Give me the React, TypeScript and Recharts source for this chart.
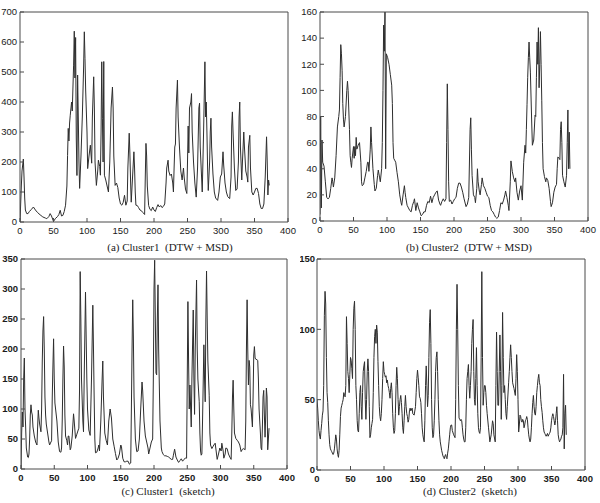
import React from 'react';
import { LineChart, Line, XAxis, YAxis } from 'recharts';

// ---------- tick labels ----------
const xTicks = [0, 50, 100, 150, 200, 250, 300, 350, 400];
const ticksA = [0, 100, 200, 300, 400, 500, 600, 700];
const ticksB = [0, 20, 40, 60, 80, 100, 120, 140, 160];
const ticksC = [0, 50, 100, 150, 200, 250, 300, 350];
const ticksD = [0, 50, 100, 150];

const captions = [
  '(a) Cluster1  (DTW + MSD)',
  '(b) Cluster2  (DTW + MSD)',
  '(c) Cluster1  (sketch)',
  '(d) Cluster2  (sketch)',
];

// ---------- (a) Cluster1 (DTW + MSD) ----------
const aX = [
  0, 1, 2, 3, 5, 6, 7, 8, 10, 12,
  14, 17, 20, 23, 26, 30, 34, 38, 40, 43,
  45, 47, 50, 53, 56, 58, 60, 62, 64, 66,
  68, 70, 71, 72, 73, 74, 75, 77, 78, 80,
  81, 82, 83, 84, 85, 86, 87, 88, 89, 91,
  93, 95, 96, 97, 98, 100, 101, 103, 105, 107,
  108, 110, 111, 112, 114, 116, 117, 119, 120, 121,
  122, 123, 124, 125, 126, 128, 130, 132, 134, 136,
  138, 139, 140, 142, 144, 146, 148, 150, 152, 154,
  156, 158, 160, 161, 163, 164, 165, 166, 168, 170,
  171, 172, 173, 175, 177, 179, 181, 183, 185, 186,
  187, 188, 189, 190, 192, 194, 196, 198, 200, 202,
  204, 206, 208, 210, 212, 214, 216, 218, 219, 221,
  222, 224, 226, 228, 229, 230, 231, 232, 233, 235,
  236, 238, 240, 242, 244, 245, 247, 249, 250, 251,
  252, 253, 255, 256, 257, 259, 261, 263, 265, 267,
  268, 269, 271, 272, 274, 275, 276, 277, 278, 279,
  280, 281, 283, 284, 285, 286, 288, 290, 292, 295,
  297, 299, 301, 303, 304, 306, 308, 310, 312, 313,
  315, 316, 317, 318, 320, 322, 324, 326, 327, 328,
  329, 331, 332, 334, 335, 337, 339, 340, 341, 343,
  344, 346, 348, 350, 352, 354, 356, 358, 360, 362,
  364, 366, 368, 369, 370, 371, 372,
];
const aY = [
  0, 60, 120, 170, 210, 150, 80, 40, 28, 28,
  35, 42, 50, 40, 32, 24, 17, 13, 11, 18,
  28, 20, 2, 12, 18, 25, 39, 20, 22, 35,
  56, 120, 222, 312, 270, 330, 356, 400, 370, 523,
  636, 480, 615, 280, 155, 490, 350, 200, 112, 220,
  350, 520, 634, 546, 440, 300, 178, 220, 256, 196,
  350, 484, 380, 200, 122, 170, 206, 185, 156, 300,
  534, 346, 200, 535, 156, 140, 120, 100, 200, 380,
  450, 380, 220, 122, 130, 115, 80, 60, 56, 65,
  89, 56, 70, 180, 296, 230, 140, 66, 150, 234,
  180, 100, 56, 55, 48, 40, 38, 32, 28, 25,
  150, 262, 220, 120, 55, 42, 38, 50, 40, 35,
  48, 58, 50, 55, 48, 52, 60, 130, 180, 206,
  170, 155, 160, 130, 100, 180, 250, 260, 380, 473,
  350, 250, 170, 140, 180, 150, 110, 95, 200, 320,
  230, 380, 400, 428, 300, 200, 130, 83, 180, 380,
  396, 250, 150, 100, 300, 420, 534, 350, 400, 300,
  180, 105, 200, 300, 346, 250, 160, 100, 80, 72,
  100, 150, 160, 234, 190, 130, 100, 85, 80, 78,
  150, 320, 367, 300, 180, 105, 110, 200, 350, 400,
  250, 140, 200, 300, 250, 170, 150, 133, 250, 289,
  180, 100, 90, 100, 112, 112, 95, 60, 45, 45,
  60, 150, 284, 200, 90, 140, 122,
];

// ---------- (b) Cluster2 (DTW + MSD) ----------
const bX = [
  0, 1, 2, 3, 4, 6, 8, 10, 12, 14,
  16, 18, 19, 20, 22, 24, 26, 28, 29, 30,
  31, 32, 33, 34, 35, 36, 38, 40, 41, 42,
  44, 45, 46, 47, 48, 50, 51, 52, 53, 54,
  55, 57, 59, 61, 62, 63, 65, 67, 69, 71,
  72, 73, 75, 76, 77, 79, 81, 82, 84, 86,
  87, 89, 90, 92, 93, 94, 95, 96, 97, 98,
  99, 101, 103, 105, 107, 108, 109, 110, 112, 113,
  115, 117, 119, 121, 122, 124, 126, 127, 128, 130,
  132, 134, 136, 138, 140, 141, 143, 145, 147, 149,
  151, 153, 155, 157, 159, 161, 163, 165, 167, 169,
  171, 173, 175, 177, 179, 180, 182, 184, 186, 188,
  189, 190, 191, 192, 193, 195, 197, 199, 201, 203,
  205, 207, 209, 211, 213, 215, 217, 218, 220, 222,
  224, 225, 226, 227, 229, 231, 232, 234, 235, 236,
  238, 239, 241, 242, 244, 246, 248, 250, 252, 254,
  256, 258, 260, 262, 264, 266, 268, 270, 272, 274,
  276, 277, 279, 281, 282, 284, 285, 287, 289, 291,
  292, 294, 296, 298, 300, 302, 304, 306, 307, 308,
  309, 310, 311, 312, 313, 314, 316, 317, 319, 321,
  322, 323, 324, 325, 326, 327, 328, 329, 330, 331,
  332, 333, 335, 337, 338, 340, 342, 344, 345, 347,
  349, 351, 353, 354, 355, 357, 358, 359, 360, 361,
  362, 364, 366, 368, 369, 370, 371, 372, 373,
];
const bY = [
  5, 80, 10, 62, 45, 42, 30, 18, 17, 18,
  25, 33, 30, 26, 33, 50, 72, 80, 85, 110,
  135, 128, 115, 90, 78, 72, 80, 100, 107, 100,
  70, 50, 45, 41, 48, 57, 48, 57, 50, 64,
  55, 58, 60, 45, 30, 27, 28, 33, 38, 45,
  45, 38, 55, 72, 60, 40, 28, 23, 25, 35,
  39, 33, 30, 40, 60, 100, 150, 130, 160, 40,
  128, 125, 120, 112, 104, 90, 60, 48, 46, 45,
  37, 30, 20, 14, 12, 20, 27, 22, 18, 12,
  10, 8, 7, 12, 15, 17, 8, 14, 10, 7,
  4, 5, 7, 7, 12, 15, 14, 19, 14, 18,
  20, 22, 23, 16, 13, 12, 15, 17, 15, 17,
  60, 105, 70, 30, 15, 16, 13, 15, 17, 18,
  25, 29, 29, 26, 22, 17, 13, 11, 13, 18,
  70, 79, 55, 35, 20, 18, 14, 25, 40, 30,
  22, 20, 28, 33, 27, 25, 22, 19, 18, 12,
  8, 7, 5, 3, 2, 3, 8, 14, 13, 16,
  20, 23, 18, 12, 8, 30, 46, 38, 33, 30,
  33, 22, 16, 23, 27, 16, 45, 58, 52, 70,
  89, 110, 125, 137, 125, 114, 75, 58, 62, 81,
  80, 110, 137, 120, 148, 102, 120, 145, 120, 92,
  60, 40, 34, 30, 33, 31, 25, 15, 11, 14,
  22, 26, 28, 40, 49, 48, 47, 70, 76, 60,
  35, 30, 26, 35, 60, 85, 40, 68, 40,
];

// ---------- (c) Cluster1 (sketch) ----------
const cX = [
  0, 1, 2, 3, 4, 5, 6, 7, 8, 10,
  11, 12, 13, 14, 15, 16, 17, 18, 20, 22,
  24, 25, 26, 27, 28, 30, 31, 32, 33, 34,
  35, 36, 37, 38, 40, 42, 43, 45, 46, 47,
  48, 49, 50, 51, 52, 54, 56, 58, 60, 61,
  62, 63, 64, 65, 66, 67, 69, 70, 71, 72,
  74, 75, 77, 79, 80, 82, 84, 86, 87, 88,
  89, 90, 91, 93, 94, 95, 97, 98, 99, 100,
  102, 104, 106, 108, 109, 110, 111, 112, 114, 116,
  117, 118, 120, 122, 123, 124, 126, 128, 130, 132,
  134, 136, 138, 140, 142, 144, 146, 148, 150, 151,
  153, 155, 157, 159, 161, 163, 165, 166, 167, 168,
  169, 170, 172, 174, 176, 178, 180, 182, 183, 185,
  187, 189, 191, 192, 194, 196, 198, 199, 200, 201,
  202, 203, 204, 205, 206, 207, 209, 211, 212, 214,
  216, 218, 220, 222, 224, 226, 228, 229, 231, 233,
  235, 237, 239, 241, 243, 245, 247, 249, 250, 251,
  252, 253, 254, 256, 257, 259, 260, 261, 262, 264,
  265, 266, 268, 269, 270, 271, 272, 273, 275, 276,
  277, 278, 279, 280, 281, 283, 284, 285, 287, 289,
  290, 292, 294, 295, 297, 299, 301, 302, 304, 305,
  307, 308, 310, 312, 314, 316, 317, 318, 319, 320,
  321, 323, 325, 327, 329, 331, 333, 335, 337, 338,
  339, 340, 341, 342, 343, 344, 345, 346, 348, 349,
  350, 351, 352, 353, 355, 356, 357, 358, 360, 361,
  362, 363, 364, 365, 366, 367, 368, 369, 370, 371,
  373,
];
const cY = [
  0, 60, 95, 70, 150, 185, 100, 70, 35, 20,
  19, 25, 50, 90, 107, 95, 90, 70, 55, 45,
  40, 70, 98, 85, 75, 62, 100, 180, 230, 254,
  200, 120, 90, 75, 60, 45, 40, 45, 47, 120,
  170, 217, 150, 110, 100, 80, 45, 29, 28, 35,
  80, 150, 205, 170, 90, 55, 47, 40, 55, 55,
  32, 35, 55, 92, 80, 51, 58, 65, 68, 130,
  329, 250, 150, 80, 62, 150, 295, 220, 150, 100,
  65, 56, 150, 273, 200, 120, 50, 27, 28, 35,
  40, 30, 80, 150, 180, 120, 60, 48, 40, 80,
  100, 85, 50, 38, 26, 15, 18, 25, 40, 38,
  18, 12, 12, 13, 13, 8, 10, 100, 200, 282,
  220, 120, 50, 29, 30, 50, 100, 145, 130, 80,
  55, 45, 35, 25, 35, 45, 50, 150, 300, 348,
  250, 160, 157, 250, 307, 200, 80, 35, 29, 24,
  22, 22, 21, 20, 18, 16, 16, 22, 33, 20,
  15, 11, 14, 17, 13, 16, 18, 18, 150, 279,
  180, 100, 140, 70, 150, 265, 150, 91, 200, 315,
  200, 150, 112, 60, 30, 23, 25, 80, 207, 150,
  112, 250, 330, 250, 180, 123, 60, 40, 34, 38,
  40, 43, 25, 16, 25, 35, 30, 43, 30, 18,
  25, 35, 34, 25, 20, 16, 60, 120, 148, 100,
  60, 51, 48, 45, 40, 29, 33, 34, 32, 80,
  200, 282, 200, 140, 181, 170, 107, 100, 70, 120,
  190, 204, 185, 183, 182, 181, 150, 100, 60, 35,
  32, 70, 120, 131, 90, 53, 90, 135, 120, 32,
  68,
];

// ---------- (d) Cluster2 (sketch) ----------
const dX = [
  0, 1, 2, 3, 4, 5, 6, 7, 8, 9,
  10, 11, 12, 13, 14, 15, 16, 17, 18, 19,
  20, 21, 22, 24, 25, 26, 27, 28, 29, 30,
  31, 32, 33, 34, 35, 36, 37, 38, 39, 40,
  41, 42, 43, 44, 45, 46, 47, 48, 49, 50,
  51, 52, 53, 54, 55, 56, 57, 58, 59, 60,
  61, 62, 63, 64, 65, 66, 67, 68, 69, 70,
  71, 72, 73, 74, 75, 76, 77, 78, 79, 80,
  81, 82, 83, 84, 85, 86, 87, 88, 89, 90,
  91, 92, 93, 94, 95, 96, 97, 98, 99, 100,
  101, 102, 103, 104, 105, 106, 107, 108, 109, 110,
  111, 112, 113, 114, 115, 116, 117, 118, 119, 120,
  121, 122, 123, 124, 125, 126, 127, 128, 129, 130,
  131, 132, 133, 134, 135, 136, 137, 138, 139, 140,
  142, 143, 145, 147, 148, 149, 150, 151, 152, 153,
  154, 155, 156, 157, 158, 159, 160, 161, 162, 163,
  164, 165, 166, 167, 168, 169, 170, 171, 172, 173,
  174, 175, 176, 177, 178, 179, 180, 181, 182, 183,
  184, 185, 186, 187, 188, 189, 190, 191, 192, 193,
  194, 195, 196, 197, 198, 199, 200, 201, 202, 204,
  206, 207, 208, 209, 210, 211, 212, 213, 214, 215,
  216, 217, 218, 219, 220, 221, 222, 223, 224, 225,
  226, 227, 228, 229, 230, 231, 232, 233, 234, 235,
  236, 237, 238, 239, 240, 241, 242, 243, 244, 245,
  246, 247, 248, 249, 250, 251, 252, 253, 254, 256,
  258, 260, 262, 263, 264, 266, 267, 268, 269, 270,
  271, 272, 273, 274, 275, 276, 277, 278, 279, 280,
  281, 282, 283, 284, 286, 287, 288, 289, 290, 291,
  292, 294, 296, 297, 298, 299, 300, 301, 302, 303,
  304, 305, 306, 307, 308, 309, 310, 311, 312, 313,
  314, 315, 316, 317, 318, 319, 320, 321, 322, 323,
  324, 325, 326, 327, 328, 329, 330, 331, 332, 333,
  334, 335, 336, 337, 338, 339, 340, 341, 342, 343,
  344, 345, 346, 347, 348, 349, 350, 351, 352, 353,
  354, 355, 356, 357, 358, 359, 360, 361, 362, 363,
  364, 365, 366, 367, 368, 369, 370, 371, 372,
];
const dY = [
  50, 44, 35, 28, 24, 22, 28, 33, 39, 42,
  60, 110, 127, 118, 80, 55, 48, 35, 25, 18,
  15, 14, 13, 11, 12, 15, 20, 25, 22, 15,
  11, 9, 14, 25, 38, 44, 46, 48, 50, 55,
  53, 52, 60, 109, 90, 70, 65, 55, 68, 80,
  78, 72, 65, 100, 115, 120, 100, 60, 50, 35,
  28, 27, 40, 55, 60, 45, 36, 55, 70, 74,
  77, 50, 36, 50, 70, 79, 70, 45, 23, 25,
  30, 33, 36, 55, 80, 95, 100, 90, 103, 98,
  77, 60, 45, 38, 35, 40, 50, 65, 77, 70,
  68, 66, 67, 62, 64, 60, 58, 55, 51, 58,
  62, 55, 40, 30, 26, 28, 40, 60, 73, 65,
  50, 39, 45, 50, 53, 48, 40, 30, 26, 35,
  45, 53, 45, 40, 38, 34, 36, 42, 44, 42,
  44, 40, 39, 45, 55, 65, 71, 66, 60, 52,
  51, 48, 40, 30, 25, 22, 20, 35, 60, 74,
  60, 45, 53, 80, 105, 114, 90, 50, 30, 23,
  25, 35, 50, 70, 80, 84, 70, 50, 35, 25,
  20, 17, 14, 12, 10, 9, 8, 10, 11, 9,
  8, 12, 15, 20, 25, 30, 32, 32, 28, 25,
  23, 50, 100, 132, 100, 60, 37, 36, 35, 36,
  35, 30, 25, 22, 20, 20, 30, 50, 65, 70,
  75, 60, 51, 60, 70, 90, 100, 107, 70, 50,
  46, 65, 87, 60, 40, 30, 27, 26, 30, 80,
  141, 80, 46, 55, 60, 60, 55, 46, 40, 30,
  20, 25, 35, 33, 25, 20, 60, 98, 70, 46,
  46, 70, 96, 70, 36, 60, 112, 80, 55, 60,
  50, 40, 36, 45, 62, 70, 80, 89, 80, 70,
  62, 58, 53, 65, 82, 70, 50, 27, 32, 39,
  38, 35, 34, 36, 35, 30, 32, 35, 36, 38,
  36, 30, 25, 22, 20, 22, 30, 40, 48, 53,
  45, 40, 39, 45, 55, 60, 65, 68, 62, 60,
  50, 45, 41, 35, 30, 27, 26, 25, 24, 25,
  26, 24, 25, 26, 27, 30, 35, 38, 40, 38,
  35, 32, 35, 40, 45, 35, 25, 22, 20, 21,
  22, 24, 25, 30, 68, 15, 40, 46, 25,
];

const tickFont = "'Liberation Sans Narrow', 'Liberation Sans', Arial, sans-serif";

type PanelProps = {
  left: number;
  top: number;
  width: number;
  height: number;
  margin: { top: number; right: number; bottom: number; left: number };
  xs: number[];
  ys: number[];
  yMax: number;
  yTicks: number[];
  yAxisWidth: number;
  yTickMargin: number;
  bold: boolean;
};

function Panel(p: PanelProps) {
  const data = p.xs.map((x, i) => ({ x, y: p.ys[i] }));
  const tickStyle = {
    fontSize: 9.5,
    fill: '#1a1a1a',
    fontFamily: tickFont,
    fontWeight: p.bold ? 700 : 400,
  };
  const axisColor = '#4a4a4a';
  return (
    <div style={{ position: 'absolute', left: p.left, top: p.top }}>
      <LineChart width={p.width} height={p.height} data={data} margin={p.margin}>
        <XAxis
          dataKey="x"
          type="number"
          domain={[0, 400]}
          ticks={xTicks}
          interval={0}
          allowDataOverflow
          height={18}
          tickSize={-4}
          tickMargin={9}
          stroke={axisColor}
          tick={tickStyle}
        />
        <XAxis
          xAxisId="top"
          orientation="top"
          type="number"
          domain={[0, 400]}
          ticks={xTicks}
          interval={0}
          allowDataOverflow
          height={1}
          tickSize={-4}
          stroke={axisColor}
          tick={false}
        />
        <YAxis
          type="number"
          domain={[0, p.yMax]}
          ticks={p.yTicks}
          interval={0}
          allowDataOverflow
          width={p.yAxisWidth}
          tickSize={-4}
          tickMargin={p.yTickMargin}
          stroke={axisColor}
          tick={tickStyle}
        />
        <YAxis
          yAxisId="right"
          orientation="right"
          type="number"
          domain={[0, p.yMax]}
          ticks={p.yTicks}
          interval={0}
          allowDataOverflow
          width={1}
          tickSize={-4}
          stroke={axisColor}
          tick={false}
        />
        <Line
          type="linear"
          dataKey="y"
          stroke="#2e2e2e"
          strokeWidth={1}
          dot={false}
          activeDot={false}
          isAnimationActive={false}
        />
      </LineChart>
    </div>
  );
}

function Caption({ cx, cy, text }: { cx: number; cy: number; text: string }) {
  return (
    <div
      style={{
        position: 'absolute',
        left: cx - 120,
        top: cy - 7,
        width: 240,
        height: 14,
        lineHeight: '14px',
        textAlign: 'center',
        whiteSpace: 'pre',
        fontFamily: "'Liberation Serif', 'Times New Roman', serif",
        fontSize: 11,
        color: '#1a1a1a',
      }}
    >
      {text}
    </div>
  );
}

export default function App() {
  return (
    <div
      style={{
        position: 'absolute',
        left: 0,
        top: 0,
        width: 600,
        height: 503,
        background: '#ffffff',
        overflow: 'hidden',
      }}
    >
      <Panel
        left={0}
        top={0}
        width={300}
        height={240}
        margin={{ top: 11, right: 11, bottom: 0, left: 0 }}
        xs={aX}
        ys={aY}
        yMax={700}
        yTicks={ticksA}
        yAxisWidth={20}
        yTickMargin={7}
        bold={false}
      />
      <Panel
        left={300}
        top={0}
        width={300}
        height={240}
        margin={{ top: 11, right: 11, bottom: 1, left: 0 }}
        xs={bX}
        ys={bY}
        yMax={160}
        yTicks={ticksB}
        yAxisWidth={20}
        yTickMargin={7}
        bold={false}
      />
      <Panel
        left={0}
        top={240}
        width={300}
        height={250}
        margin={{ top: 18, right: 12, bottom: 3, left: 0 }}
        xs={cX}
        ys={cY}
        yMax={350}
        yTicks={ticksC}
        yAxisWidth={21}
        yTickMargin={7}
        bold={true}
      />
      <Panel
        left={300}
        top={240}
        width={300}
        height={250}
        margin={{ top: 18, right: 14, bottom: 2, left: 0 }}
        xs={dX}
        ys={dY}
        yMax={150}
        yTicks={ticksD}
        yAxisWidth={17}
        yTickMargin={6}
        bold={true}
      />
      <Caption cx={170} cy={247} text={captions[0]} />
      <Caption cx={469} cy={247} text={captions[1]} />
      <Caption cx={168} cy={491} text={captions[2]} />
      <Caption cx={470} cy={491} text={captions[3]} />
    </div>
  );
}
